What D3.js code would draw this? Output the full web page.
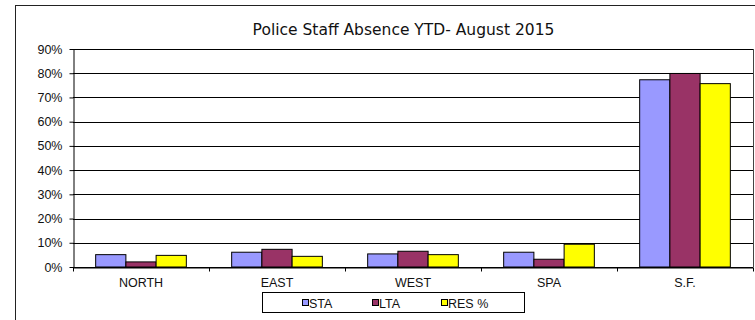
<!DOCTYPE html>
<html>
<head>
<meta charset="utf-8">
<script src="https://cdn.jsdelivr.net/npm/d3@7"></script>
<style>
  body { margin: 0; background: #fff; }
  svg { display: block; }
  .lbl { font-family: "Liberation Sans", Arial, sans-serif; font-size: 12.5px; }
</style>
</head>
<body>
<div id="chart"></div>
<script>
// chart values
var categories = ["NORTH", "EAST", "WEST", "SPA", "S.F."];
var seriesNames = ["STA", "LTA", "RES %"];
var staValues = [0.051, 0.061, 0.054, 0.061, 0.773];
var ltaValues = [0.021, 0.073, 0.065, 0.032, 0.799];
var resValues = [0.048, 0.044, 0.051, 0.094, 0.757];
var yTicks = [0, 0.1, 0.2, 0.3, 0.4, 0.5, 0.6, 0.7, 0.8, 0.9];
var colors = ["#9999FF", "#993366", "#FFFF00"];

var W = 755, H = 320;
var plot = {left: 73, right: 753, top: 49, bottom: 267};

var svg = d3.select("#chart").append("svg")
  .attr("width", W)
  .attr("height", H);

// outer chart border (right and bottom run off the picture)
svg.append("rect")
  .attr("x", 15.5).attr("y", 5.5)
  .attr("width", 760).attr("height", 330)
  .attr("fill", "#fff")
  .attr("stroke", "#222");

// title
svg.append("text")
  .attr("x", 403.5)
  .attr("y", 35)
  .attr("text-anchor", "middle")
  .style("font-family", "'DejaVu Sans', Verdana, sans-serif")
  .style("font-size", "15.5px")
  .attr("fill", "#111")
  .text("Police Staff Absence YTD- August 2015");

// scales
var x0 = d3.scaleBand()
  .domain(categories)
  .range([plot.left, plot.right])
  .paddingInner(1 / 3)
  .paddingOuter(1 / 6);

var x1 = d3.scaleBand()
  .domain(seriesNames)
  .range([0, x0.bandwidth()])
  .padding(0);

var y = d3.scaleLinear()
  .domain([0, 0.9])
  .range([plot.bottom, plot.top]);

// gridlines
svg.append("g")
  .selectAll("line")
  .data(yTicks)
  .enter().append("line")
  .attr("x1", plot.left)
  .attr("x2", plot.right)
  .attr("y1", function (d) { return Math.round(y(d)) + 0.5; })
  .attr("y2", function (d) { return Math.round(y(d)) + 0.5; })
  .attr("stroke", "#000")
  .attr("stroke-width", 1);

// right edge of plot area
svg.append("line")
  .attr("x1", plot.right + 0.5).attr("x2", plot.right + 0.5)
  .attr("y1", plot.top).attr("y2", plot.bottom)
  .attr("stroke", "#444");

// bars
var data = categories.map(function (c, i) {
  return {cat: c, vals: [staValues[i], ltaValues[i], resValues[i]]};
});

var groups = svg.append("g")
  .selectAll("g")
  .data(data)
  .enter().append("g")
  .attr("transform", function (d) { return "translate(" + x0(d.cat) + ",0)"; });

groups.selectAll("rect")
  .data(function (d) {
    return d.vals.map(function (v, j) { return {name: seriesNames[j], v: v, j: j}; });
  })
  .enter().append("rect")
  .attr("x", function (d) { return x1(d.name); })
  .attr("width", x1.bandwidth())
  .attr("y", function (d) { return y(d.v); })
  .attr("height", function (d) { return plot.bottom - y(d.v); })
  .attr("fill", function (d) { return colors[d.j]; })
  .attr("stroke", "#000")
  .attr("stroke-width", 1);

// y axis
var yAxis = svg.append("g")
  .attr("transform", "translate(" + (plot.left + 0.5) + ",0)")
  .call(d3.axisLeft(y)
    .tickValues(yTicks)
    .tickFormat(d3.format(".0%"))
    .tickSize(4)
    .tickSizeOuter(0));
yAxis.attr("font-family", null).attr("font-size", null);
yAxis.select(".domain").attr("stroke", "#000");
yAxis.selectAll("text")
  .attr("class", "lbl")
  .attr("fill", "#111")
  .attr("x", -11);

// x axis
var xAxis = svg.append("g")
  .attr("transform", "translate(0," + (plot.bottom + 0.5) + ")")
  .call(d3.axisBottom(x0).tickSize(0).tickSizeOuter(0));
xAxis.attr("font-family", null).attr("font-size", null);
xAxis.select(".domain").attr("stroke", "#000");
xAxis.selectAll("text")
  .attr("class", "lbl")
  .attr("fill", "#111")
  .attr("dy", null)
  .attr("y", 19.5);

// category boundary ticks
var bounds = d3.range(categories.length + 1).map(function (i) {
  return plot.left + i * x0.step();
});
xAxis.selectAll(".bound")
  .data(bounds)
  .enter().append("line")
  .attr("class", "bound")
  .attr("x1", function (d) { return Math.round(d) + 0.5; })
  .attr("x2", function (d) { return Math.round(d) + 0.5; })
  .attr("y1", 0).attr("y2", 4)
  .attr("stroke", "#000");

// legend
var legend = svg.append("g");
legend.append("rect")
  .attr("x", 262.5).attr("y", 292.5)
  .attr("width", 262).attr("height", 20)
  .attr("fill", "#fff")
  .attr("stroke", "#000");

var legendX = [302, 372, 441];
var items = legend.selectAll(".item")
  .data(seriesNames)
  .enter().append("g")
  .attr("class", "item")
  .attr("transform", function (d, i) { return "translate(" + legendX[i] + ",303)"; });

items.append("rect")
  .attr("x", 0.5).attr("y", -3.5)
  .attr("width", 6).attr("height", 6)
  .attr("fill", function (d, i) { return colors[i]; })
  .attr("stroke", "#000");

items.append("text")
  .attr("class", "lbl")
  .attr("x", 7)
  .attr("y", 4.5)
  .attr("fill", "#111")
  .text(function (d) { return d; });
</script>
</body>
</html>
